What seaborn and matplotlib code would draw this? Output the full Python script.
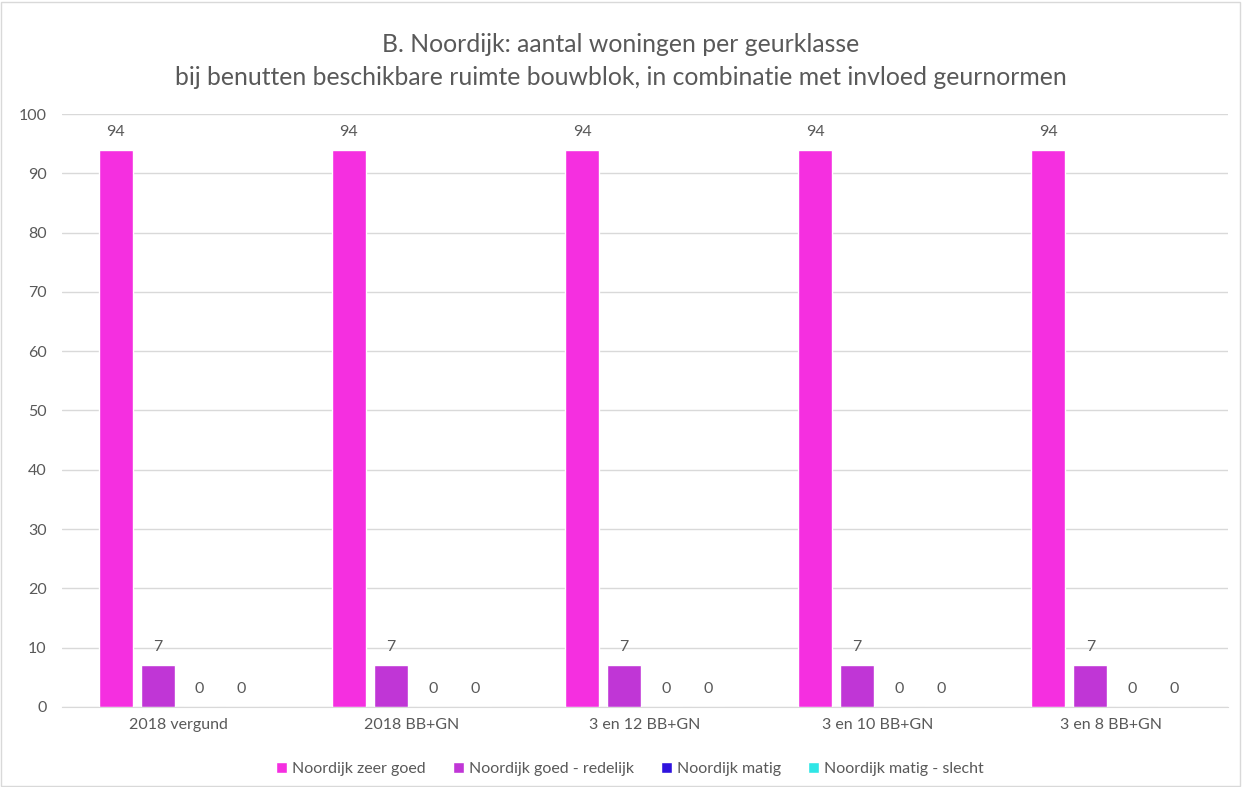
import pandas as pd
import numpy as np
import matplotlib.pyplot as plt
import seaborn as sns
from matplotlib.patches import Rectangle

# data
scenarios = ['2018 vergund', '2018 BB+GN', '3 en 12 BB+GN', '3 en 10 BB+GN', '3 en 8 BB+GN']
series = ['Noordijk zeer goed', 'Noordijk goed - redelijk', 'Noordijk matig', 'Noordijk matig - slecht']
zeer_goed = [94, 94, 94, 94, 94]
goed_redelijk = [7, 7, 7, 7, 7]
matig = [0, 0, 0, 0, 0]
matig_slecht = [0, 0, 0, 0, 0]
colors = ['#F52FE0', '#C036D6', '#2F13DE', '#2FE6E6']

df = pd.DataFrame({
    'Scenario': scenarios * 4,
    'Klasse': np.repeat(series, len(scenarios)),
    'Aantal': zeer_goed + goed_redelijk + matig + matig_slecht,
})

sns.set_style('white')
plt.rcParams['font.family'] = ['Lato', 'DejaVu Sans']
txt = '#595959'

fig = plt.figure(figsize=(12.42, 7.87), dpi=100)
ax = fig.add_axes([0.0499, 0.1017, 0.9388, 0.7534])

sns.barplot(data=df, x='Scenario', y='Aantal', hue='Klasse', palette=colors,
            width=0.72, gap=0.19, ax=ax, legend=True, saturation=1)

for c in ax.containers:
    ax.bar_label(c, padding=8, color=txt, fontsize=11.5)

ax.set_ylim(0, 100)
ax.set_yticks(range(0, 101, 10))
ax.yaxis.grid(True, color='#D9D9D9', linewidth=1)
ax.set_axisbelow(True)
for s in ['left', 'right', 'top']:
    ax.spines[s].set_visible(False)
ax.spines['bottom'].set_color('#D9D9D9')
ax.tick_params(axis='both', length=0, labelsize=11.5, labelcolor=txt)
ax.tick_params(axis='y', pad=11)
ax.tick_params(axis='x', pad=8)
ax.set_xlabel('')
ax.set_ylabel('')

fig.suptitle('B. Noordijk: aantal woningen per geurklasse\n'
             'bij benutten beschikbare ruimte bouwblok, in combinatie met invloed geurnormen',
             y=0.958, fontsize=17.8, color=txt, linespacing=1.5)

ax.legend(loc='center', bbox_to_anchor=(0.487, -0.104), ncol=4, frameon=False,
          fontsize=11.5, labelcolor=txt, handlelength=0.7, handleheight=0.7,
          handletextpad=0.3, columnspacing=1.7)

fig.patches.append(Rectangle((0.001, 0.001), 0.997, 0.997, transform=fig.transFigure,
                             fill=False, edgecolor='#D9D9D9', linewidth=1))

plt.savefig('out.png', dpi=100)
